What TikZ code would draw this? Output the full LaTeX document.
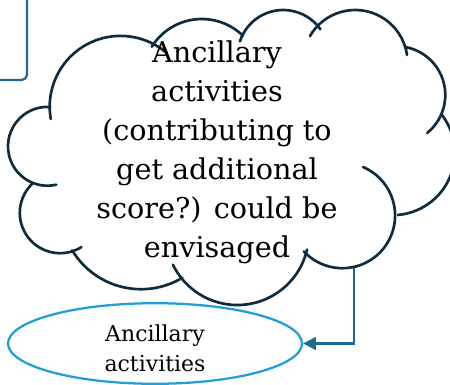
\documentclass[tikz,border=0pt]{standalone}
\usepackage{fontspec}
\setmainfont{DejaVu Serif}
\usetikzlibrary{shapes.geometric, arrows.meta}

\definecolor{cloudline}{HTML}{0F2B3D}
\definecolor{flowline}{HTML}{22698F}
\definecolor{ovalline}{HTML}{1E9FD9}

\begin{document}
\begin{tikzpicture}[x=0.75pt, y=-0.75pt,
  puff/.style={draw=cloudline, line width=2pt, line cap=round},
  flow/.style={draw=flowline, line width=1.7pt, -{Triangle[length=9.5pt, width=9.5pt]}}]

\useasboundingbox (0, 0) rectangle (450, 385);
\clip (0, 0) rectangle (450, 385);

\node (prev) [draw=flowline, line width=1.7pt, rounded corners=4pt, minimum width=132.75pt, minimum height=90pt] at (-61.5, 20) {};

% cloud outline, puff by puff
\draw [puff] (120.5, 106.7) ++(170:70.8) arc [start angle=170, end angle=311, radius=70.8];
\draw [puff] (201.8, 78) ++(212:59) arc [start angle=212, end angle=314, radius=59];
\draw [puff] (283.2, 55.5) ++(198:45.5) arc [start angle=198, end angle=325, radius=45.5];
\draw [puff] (355.2, 62.3) ++(210:52.3) arc [start angle=210, end angle=352, radius=52.3];
\draw [puff] (396.5, 95) ++(280:48.8) arc [start angle=280, end angle=411, radius=48.8];
\draw [puff] (392.5, 152.9) ++(322:62.3) arc [start angle=322, end angle=445, radius=62.3];
\draw [puff] (342.4, 215.5) ++(293:52.7) arc [start angle=293, end angle=497, radius=52.7];
\draw [puff] (237.3, 233.4) ++(13:71.6) arc [start angle=13, end angle=154, radius=71.6];
\draw [puff] (141, 208.9) ++(59:80.3) arc [start angle=59, end angle=149, radius=80.3];
\draw [puff] (60.1, 212.9) ++(58:40.3) arc [start angle=58, end angle=228, radius=40.3];
\draw [puff] (47.4, 146.3) ++(77:39.4) arc [start angle=77, end angle=274, radius=39.4];

\node (cloud) [align=center, font=\fontsize{21.5}{29.25}\selectfont] at (217, 152) {Ancillary \\ activities \\ (contributing to \\ get additional \\ score?) could be \\ envisaged};

\node (ancillary) [ellipse, draw=ovalline, line width=1.7pt, minimum width=220.5pt, minimum height=59pt, inner sep=0pt, align=center, font=\fontsize{16.5}{22.5}\selectfont] at (155, 343.5) {\rule{0pt}{20pt}Ancillary \\ activities};

\coordinate (cloudfoot) at (354, 268);
\draw [flow] (cloudfoot) |- (ancillary.east);

\end{tikzpicture}
\end{document}
